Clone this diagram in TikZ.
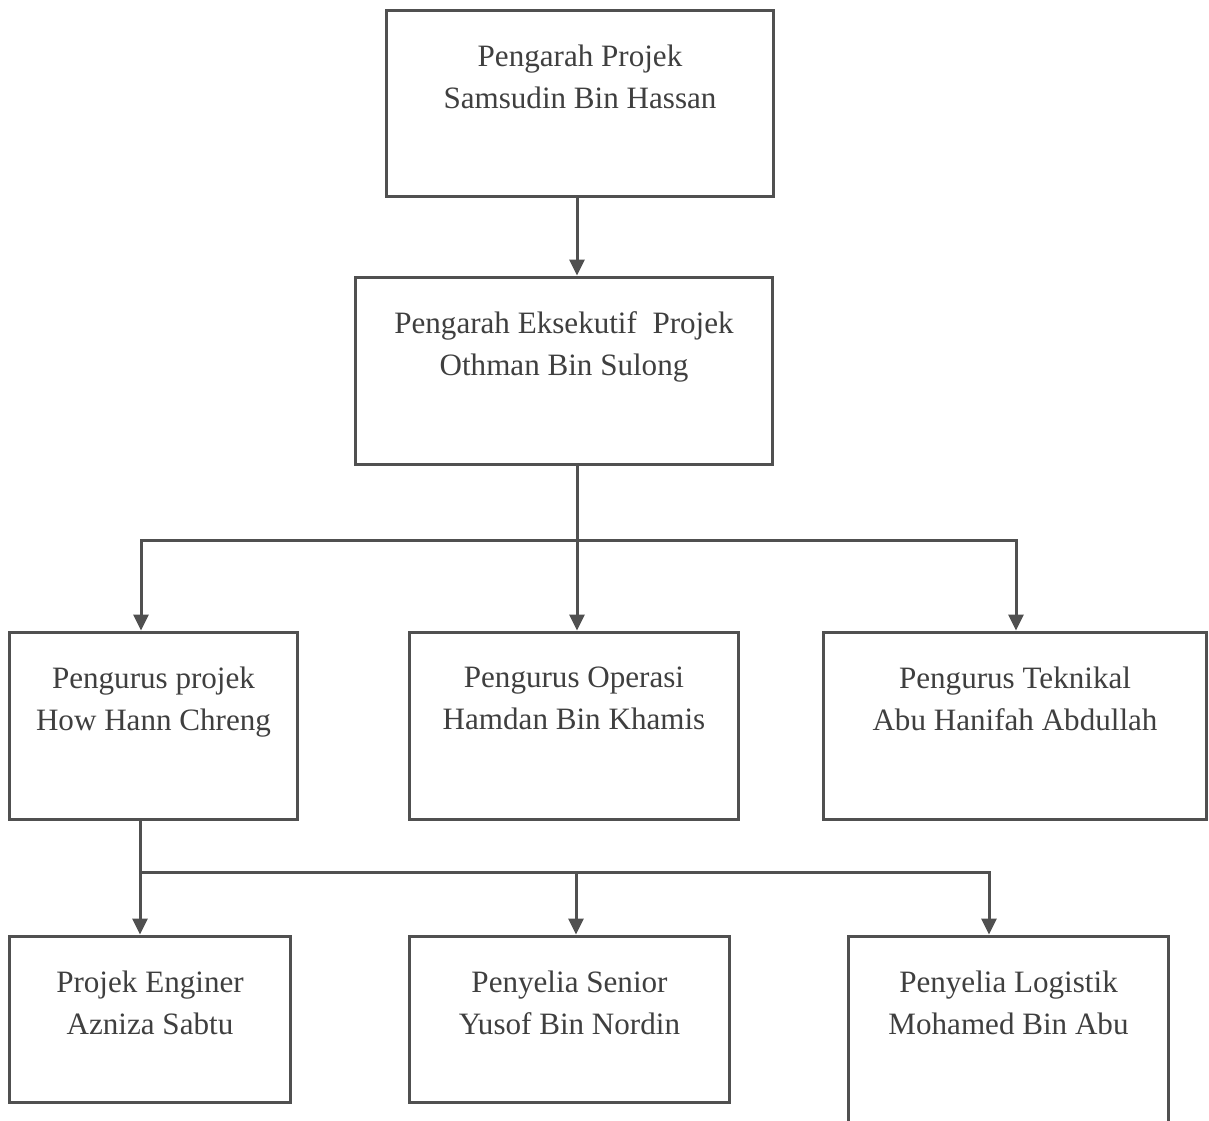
\documentclass[tikz,border=0pt]{standalone}
\usepackage{fontspec}
\setmainfont{Liberation Serif}
\usetikzlibrary{arrows.meta}
\begin{document}
\begin{tikzpicture}[x=0.02cm, y=-0.02cm,
  jobbox/.style={draw=linecol, line width=0.06cm, inner sep=0pt, minimum width=#1},
  jobtext/.style={anchor=north, align=center, inner sep=0pt, yshift=-0.72cm, text=textcol, font=\fontsize{17.7pt}{23.9pt}\selectfont},
  link/.style={draw=linecol, line width=0.06cm},
  arr/.style={link, -{Triangle[length=0.32cm, width=0.3cm]}}]
\definecolor{linecol}{HTML}{505050}
\definecolor{textcol}{HTML}{3F3F3F}
\useasboundingbox (0,0) rectangle (1209,1121);
\node[jobbox=7.76cm, minimum height=3.74cm, label={[jobtext]north:{Pengarah Projek\\Samsudin Bin Hassan}}] (pengarah) at (580,103.5) {};
\node[jobbox=8.36cm, minimum height=3.76cm, label={[jobtext]north:{Pengarah Eksekutif\ \ Projek\\Othman Bin Sulong}}] (eksekutif) at (564,371) {};
\node[jobbox=5.78cm, minimum height=3.76cm, label={[jobtext]north:{Pengurus projek\\How Hann Chreng}}] (projek) at (153.5,726) {};
\node[jobbox=6.60cm, minimum height=3.76cm, label={[jobtext]north:{Pengurus Operasi\\Hamdan Bin Khamis}}] (operasi) at (574,726) {};
\node[jobbox=7.68cm, minimum height=3.76cm, label={[jobtext]north:{Pengurus Teknikal\\Abu Hanifah Abdullah}}] (teknikal) at (1015,726) {};
\node[jobbox=5.64cm, minimum height=3.34cm, label={[jobtext]north:{Projek Enginer\\Azniza Sabtu}}] (enginer) at (150,1019.5) {};
\node[jobbox=6.42cm, minimum height=3.34cm, label={[jobtext]north:{Penyelia Senior\\Yusof Bin Nordin}}] (senior) at (569.5,1019.5) {};
\node[jobbox=6.42cm, minimum height=3.88cm, label={[jobtext]north:{Penyelia Logistik\\Mohamed Bin Abu}}] (logistik) at (1008.5,1033) {};
\coordinate (bus1) at (577,540);
\coordinate (busL) at (141,540);
\coordinate (busR) at (1016,540);
\coordinate (bus2L) at (140,872);
\coordinate (bus2M) at (576,872);
\coordinate (bus2R) at (989,872);
\draw[arr] (pengarah.south -| bus1) -- (eksekutif.north -| bus1);
\draw[arr] (eksekutif.south -| bus1) -- (bus1 |- operasi.north);
\draw[arr] (bus1) -- (busL) -- (busL |- projek.north);
\draw[arr] (bus1) -- (busR) -- (busR |- teknikal.north);
\draw[arr] (projek.south -| bus2L) -- (bus2L |- enginer.north);
\draw[arr] (bus2M) -- (bus2M |- senior.north);
\draw[arr] (bus2L) -- (bus2R) -- (bus2R |- logistik.north);
\end{tikzpicture}
\end{document}
